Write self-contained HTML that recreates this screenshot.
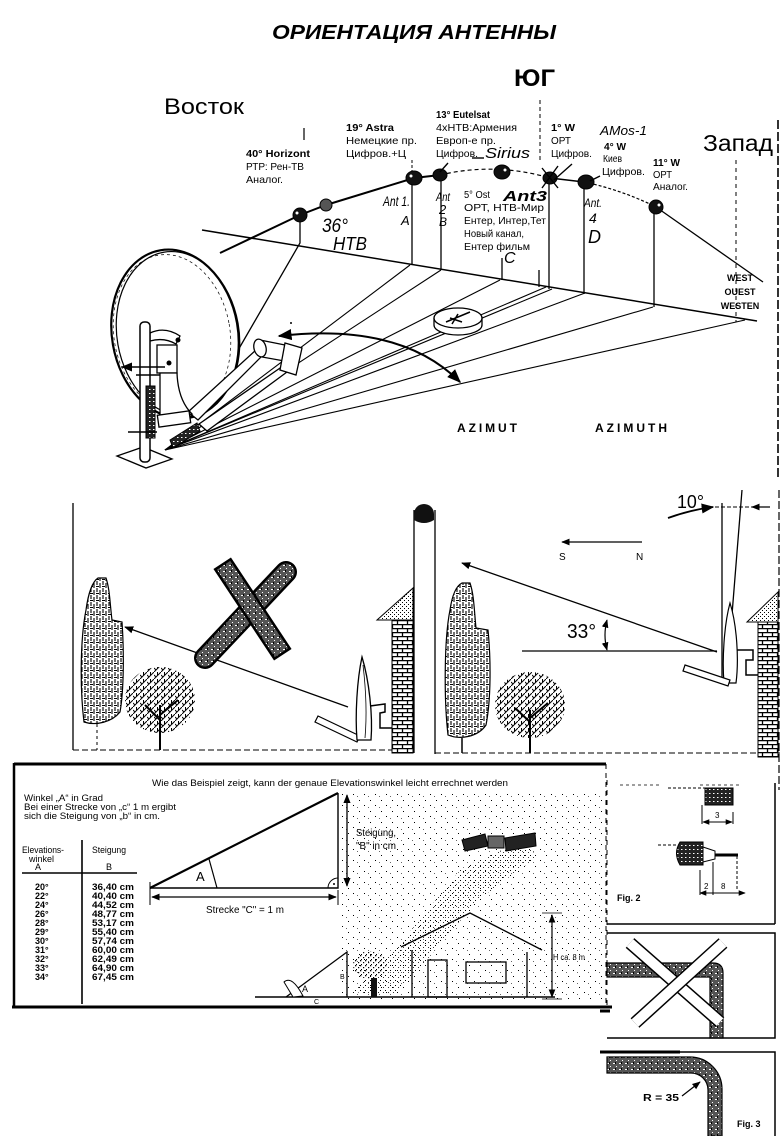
<!DOCTYPE html>
<html><head><meta charset="utf-8"><title>Ориентация антенны</title>
<style>
html,body{margin:0;padding:0;background:#fff;width:784px;height:1136px;overflow:hidden}
svg{display:block}
text{font-family:"Liberation Sans","DejaVu Sans",sans-serif;fill:#000}
.b{font-weight:bold}
.hw{font-family:"Liberation Serif","DejaVu Serif",serif;font-style:italic}
</style></head><body>
<svg width="784" height="1136" viewBox="0 0 784 1136" xmlns="http://www.w3.org/2000/svg">
<defs>
<pattern id="brick" width="10" height="8" patternUnits="userSpaceOnUse">
 <rect width="10" height="8" fill="#fff"/>
 <path d="M0 0.6H10M0 4.6H10M2.5 0.6V4.6M7.5 4.6V8.6" stroke="#000" stroke-width="1.3"/>
</pattern>
<pattern id="stip" width="4" height="4" patternUnits="userSpaceOnUse">
 <rect width="4" height="4" fill="#fff"/>
 <rect x="0" y="0" width="1" height="1" fill="#000"/>
 <rect x="2" y="2" width="1" height="1" fill="#000"/>
</pattern>
<pattern id="stipl" width="5" height="5" patternUnits="userSpaceOnUse">
 <rect x="0" y="0" width="1" height="1" fill="#000"/>
 <rect x="3" y="2" width="1" height="1" fill="#333"/>
</pattern>
<pattern id="sparse" width="11" height="11" patternUnits="userSpaceOnUse">
 <rect x="1" y="2" width="1" height="1" fill="#000"/>
 <rect x="7" y="8" width="1" height="1" fill="#000"/>
 <rect x="5" y="4" width="1" height="1" fill="#666"/>
</pattern>
<pattern id="dense" width="5" height="5" patternUnits="userSpaceOnUse">
 <rect x="0" y="0" width="1.3" height="1.3" fill="#000"/>
 <rect x="3" y="2" width="1.2" height="1.2" fill="#000"/>
 <rect x="1" y="4" width="1" height="1" fill="#000"/>
</pattern>
<pattern id="scrib" width="6" height="7" patternUnits="userSpaceOnUse">
 <rect width="6" height="7" fill="#fff"/>
 <path d="M1 0V4M4 2V7M0 5.5H3" stroke="#000" stroke-width="1.1"/>
</pattern>
<pattern id="branch" width="7" height="7" patternUnits="userSpaceOnUse">
 <rect width="7" height="7" fill="#fff"/>
 <path d="M0 7L3.5 3.5L7 0M3.5 3.5L3.5 0M2 5L0 3" stroke="#000" stroke-width="1"/>
</pattern>
<pattern id="hatch" width="4" height="4" patternUnits="userSpaceOnUse">
 <rect width="4" height="4" fill="#222"/>
 <rect x="1" y="1" width="1.5" height="1" fill="#fff"/>
</pattern>
<pattern id="mottle" width="6" height="6" patternUnits="userSpaceOnUse">
 <rect width="6" height="6" fill="#555"/>
 <rect x="1" y="1" width="2" height="1" fill="#fff"/>
 <rect x="4" y="4" width="1" height="1" fill="#fff"/>
 <rect x="3" y="0" width="1" height="2" fill="#000"/>
</pattern>
<marker id="ah" viewBox="0 0 10 10" refX="9" refY="5" markerWidth="7" markerHeight="7" orient="auto-start-reverse"><path d="M0 1L10 5L0 9Z" fill="#000"/></marker>
</defs>

<rect width="784" height="1136" fill="#fff"/>

<!-- ================= TOP SECTION ================= -->
<text x="272" y="39" font-size="20" class="b" font-style="italic" textLength="284" lengthAdjust="spacingAndGlyphs">ОРИЕНТАЦИЯ АНТЕННЫ</text>
<text x="514" y="86" font-size="24" class="b" textLength="41" lengthAdjust="spacingAndGlyphs">ЮГ</text>
<text x="164" y="114" font-size="22" textLength="80" lengthAdjust="spacingAndGlyphs">Восток</text>
<text x="703" y="151" font-size="23" textLength="70" lengthAdjust="spacingAndGlyphs">Запад</text>

<g font-size="10.5">
 <text x="246" y="157" class="b" textLength="64" lengthAdjust="spacingAndGlyphs">40° Horizont</text>
 <text x="246" y="170" textLength="58" lengthAdjust="spacingAndGlyphs">РТР: Рен-ТВ</text>
 <text x="246" y="183" textLength="37" lengthAdjust="spacingAndGlyphs">Аналог.</text>

 <text x="346" y="131" class="b" textLength="48" lengthAdjust="spacingAndGlyphs">19° Astra</text>
 <text x="346" y="144" textLength="71" lengthAdjust="spacingAndGlyphs">Немецкие пр.</text>
 <text x="346" y="157" textLength="60" lengthAdjust="spacingAndGlyphs">Цифров.+Ц</text>

 <text x="436" y="118" class="b" textLength="54" lengthAdjust="spacingAndGlyphs">13° Eutelsat</text>
 <text x="436" y="131" textLength="81" lengthAdjust="spacingAndGlyphs">4xНТВ:Армения</text>
 <text x="436" y="144" textLength="60" lengthAdjust="spacingAndGlyphs">Европ-е пр.</text>
 <text x="436" y="157" textLength="42" lengthAdjust="spacingAndGlyphs">Цифров.</text>

 <text x="551" y="131" class="b" textLength="24" lengthAdjust="spacingAndGlyphs">1° W</text>
 <text x="551" y="144" textLength="20" lengthAdjust="spacingAndGlyphs">ОРТ</text>
 <text x="551" y="157" textLength="41" lengthAdjust="spacingAndGlyphs">Цифров.</text>

 <text x="604" y="150" class="b" textLength="22" lengthAdjust="spacingAndGlyphs">4° W</text>
 <text x="603" y="162" textLength="19" lengthAdjust="spacingAndGlyphs">Киев</text>
 <text x="602" y="175" textLength="43" lengthAdjust="spacingAndGlyphs">Цифров.</text>

 <text x="653" y="166" class="b" textLength="27" lengthAdjust="spacingAndGlyphs">11° W</text>
 <text x="653" y="178" textLength="19" lengthAdjust="spacingAndGlyphs">ОРТ</text>
 <text x="653" y="190" textLength="35" lengthAdjust="spacingAndGlyphs">Аналог.</text>
</g>
<g font-size="10" font-family="Liberation Serif, serif">
 <text x="464" y="198" textLength="26" lengthAdjust="spacingAndGlyphs">5° Ost</text>
 <text x="464" y="211" textLength="80" lengthAdjust="spacingAndGlyphs">ОРТ, НТВ-Мир</text>
 <text x="464" y="224" textLength="82" lengthAdjust="spacingAndGlyphs">Ентер, Интер,Тет</text>
 <text x="464" y="237" textLength="60" lengthAdjust="spacingAndGlyphs">Новый канал,</text>
 <text x="464" y="250" textLength="66" lengthAdjust="spacingAndGlyphs">Ентер фильм</text>
</g>

<!-- handwritten -->
<g class="hw">
 <text x="485" y="158" font-size="15" textLength="45" lengthAdjust="spacingAndGlyphs">Sirius</text>
 <text x="600" y="135" font-size="13" textLength="47" lengthAdjust="spacingAndGlyphs">AMos-1</text>
 <text x="322" y="232" font-size="19" textLength="26" lengthAdjust="spacingAndGlyphs">36°</text>
 <text x="333" y="250" font-size="18" textLength="34" lengthAdjust="spacingAndGlyphs">НТВ</text>
 <text x="383" y="206" font-size="14" textLength="27" lengthAdjust="spacingAndGlyphs">Ant 1.</text>
 <text x="401" y="225" font-size="13">A</text>
 <text x="436" y="201" font-size="12" textLength="14" lengthAdjust="spacingAndGlyphs">Ant</text>
 <text x="439" y="214" font-size="13">2</text>
 <text x="439" y="226" font-size="12">B</text>
 <text x="503" y="201" font-size="15" class="b" textLength="44" lengthAdjust="spacingAndGlyphs">Ant3</text>
 <text x="584" y="207" font-size="12" textLength="18" lengthAdjust="spacingAndGlyphs">Ant.</text>
 <text x="589" y="223" font-size="14">4</text>
 <text x="588" y="243" font-size="18">D</text>
 <text x="504" y="263" font-size="16">C</text>
</g>

<!-- ticks / dashed guides -->
<g fill="none" stroke="#000">
 <path d="M304,128 V140" stroke-width="1.2"/>
 <path d="M540,100 V162" stroke-width="1" stroke-dasharray="4,3"/>
 <path d="M412,160 V174" stroke-width="1" stroke-dasharray="3,2"/>
 <path d="M736,160 V322" stroke-width="1" stroke-dasharray="4,4"/>
 <path d="M778,120 V478" stroke-width="1.6" stroke-dasharray="9,3"/>
</g>

<!-- arc of satellites -->
<g fill="none" stroke="#000">
 <path d="M220,253 L300,215 L326,205 L414,178 L440,175" stroke-width="2"/>
 <path d="M440,175 Q495,162 550,178" stroke-width="1.2" stroke-dasharray="4,3"/>
 <path d="M550,178 L584,182" stroke-width="1.5"/>
 <path d="M584,182 Q622,190 656,207" stroke-width="1.2" stroke-dasharray="3,2"/>
 <path d="M656,207 L763,282" stroke-width="1.3"/>
</g>

<!-- horizon plane -->
<g fill="none" stroke="#000" stroke-width="1.3">
 <path d="M202,230 L757,321" stroke-width="1.5"/>
 <path d="M300,215 V243 L237,352"/>
 <path d="M412,178 V265"/>
 <path d="M441,175 V270"/>
 <path d="M502,258 V280"/>
 <path d="M539,270 V287"/>
 <path d="M549,178 V289"/>
 <path d="M584,182 V294"/>
 <path d="M654,207 V307"/>
</g>
<g fill="none" stroke="#000" stroke-width="1.1">
 <path d="M165,450 L410,265"/>
 <path d="M165,450 L441,270"/>
 <path d="M165,450 L500,280"/>
 <path d="M165,450 L546,287"/>
 <path d="M165,450 L552,289"/>
 <path d="M165,450 L585,293"/>
 <path d="M165,450 L653,307"/>
 <path d="M165,450 L745,320"/>
</g>

<!-- satellites -->
<g fill="#111" stroke="#000">
 <ellipse cx="300" cy="215" rx="7" ry="7"/>
 <ellipse cx="326" cy="205" rx="6" ry="6" fill="#555"/>
 <ellipse cx="414" cy="178" rx="8" ry="7"/>
 <ellipse cx="440" cy="175" rx="7" ry="6"/>
 <ellipse cx="502" cy="172" rx="8" ry="7"/>
 <ellipse cx="550" cy="178" rx="7" ry="6"/>
 <ellipse cx="586" cy="182" rx="8" ry="7"/>
 <ellipse cx="656" cy="207" rx="7" ry="7"/>
</g>
<g fill="#fff">
 <circle cx="297" cy="213" r="1.5"/><circle cx="411" cy="176" r="1.5"/><circle cx="505" cy="170" r="1.5"/><circle cx="659" cy="205" r="1.5"/>
</g>
<g fill="none" stroke="#000" stroke-width="1.4">
 <path d="M542,168 L558,188 M558,166 L542,188 M572,164 L554,180"/>
 <path d="M448,163 L440,172"/>
 <path d="M600,176 L590,181"/>
 <path d="M472,158 L484,158"/>
</g>

<!-- dish -->
<ellipse cx="175" cy="334" rx="63" ry="85" transform="rotate(-10 175 334)" fill="#fff" stroke="#000" stroke-width="2.2"/>
<ellipse cx="178" cy="334" rx="61" ry="83" transform="rotate(-10 178 334)" fill="none" stroke="#000" stroke-width="1.2"/>
<ellipse cx="172" cy="334" rx="58" ry="80" transform="rotate(-10 172 334)" fill="none" stroke="#000" stroke-width="0.7" stroke-dasharray="3,3"/>
<!-- feed arms & LNB -->
<g stroke="#000" stroke-width="1.3" fill="#fff">
 <path d="M188,412 L256,350 L262,356 L198,420 Z"/>
 <path d="M199,424 L283,366 L287,372 L207,431 Z"/>
 <path d="M260,340 L290,346 L290,362 L262,357 Z"/>
 <ellipse cx="260" cy="348" rx="6" ry="9" transform="rotate(-15 260 348)"/>
 <path d="M285,343 L302,348 L296,375 L280,370 Z"/>
</g>
<!-- mount -->
<g stroke="#000" stroke-width="1.3" fill="#fff">
 <path d="M150,333 Q165,326 180,336 L176,344 Q164,337 150,341 Z"/>
 <rect x="157" y="345" width="20" height="28"/>
 <path d="M160,373 L177,373 Q178,400 192,414 L160,420 Z"/>
 <rect x="158" y="413" width="32" height="12" transform="rotate(-8 174 419)"/>
</g>
<path d="M170,440 L197,423 L200,431 L173,448 Z" fill="url(#hatch)" stroke="#000"/>
<circle cx="169" cy="363" r="2.5" fill="#000"/>
<circle cx="178" cy="340" r="2.5" fill="#000"/>
<path d="M117,456 L143,447 L172,459 L146,468 Z" fill="#fff" stroke="#000" stroke-width="1.3"/>
<rect x="140" y="322" width="10" height="140" rx="4" fill="#fff" stroke="#000" stroke-width="1.5"/>
<rect x="146" y="386" width="9" height="52" fill="url(#hatch)" stroke="#000"/>
<g fill="none" stroke="#000" stroke-width="1.6">
 <path d="M122,367 H165" marker-start="url(#ah)"/>
 <path d="M128,432 H157"/>
 <path d="M136,375 H160"/>
</g>

<!-- compass -->
<g stroke="#000" stroke-width="1.3" fill="#fff">
 <path d="M434,318 V325 A24,10 0 0 0 482,325 V318"/>
 <ellipse cx="458" cy="318" rx="24" ry="10"/>
</g>
<path d="M446,322 L470,312 M450,318 L462,322 M458,314 L452,324" fill="none" stroke="#000" stroke-width="1.5"/>

<!-- azimuth arrow -->
<path d="M279,336 Q400,322 460,382" fill="none" stroke="#000" stroke-width="2" marker-start="url(#ah)" marker-end="url(#ah)"/>
<circle cx="291" cy="323" r="1" fill="#000"/>

<text x="457" y="432" font-size="12" class="b" textLength="60" lengthAdjust="spacing">AZIMUT</text>
<text x="595" y="432" font-size="12" class="b" textLength="72" lengthAdjust="spacing">AZIMUTH</text>
<g font-size="9" class="b" text-anchor="middle">
 <text x="740" y="281">WEST</text>
 <text x="740" y="295">OUEST</text>
 <text x="740" y="309">WESTEN</text>
</g>

<!-- ================= MIDDLE LEFT PANEL ================= -->
<g fill="none" stroke="#000">
 <path d="M73,503 V750" stroke-width="1.3"/>
 <path d="M73,750 H414" stroke-width="1" stroke-dasharray="6,3"/>
 <path d="M414,510 V753 M435,510 V754" stroke-width="1.3"/>
</g>
<path d="M414,514 A10,10 0 0 1 434,514 L434,520 Q424,526 414,520 Z" fill="#111"/>
<path d="M377,620 L413,588 L413,620 Z" fill="url(#stip)" stroke="#000"/>
<rect x="392" y="620" width="21" height="133" fill="url(#brick)" stroke="#000"/>
<!-- trees left -->
<path d="M84,722 C80,690 80,640 86,610 C88,595 92,582 98,578 L106,578 C110,590 110,605 112,620 L122,622 C124,650 124,690 120,712 C112,722 96,726 84,722 Z" fill="url(#scrib)" stroke="#000" stroke-width="1.2"/>
<path d="M97,724 V750" fill="none" stroke="#000" stroke-dasharray="3,3"/>
<ellipse cx="160" cy="700" rx="35" ry="33" fill="url(#branch)"/>
<path d="M160,705 V750 M160,720 L145,705 M160,715 L178,700" fill="none" stroke="#000" stroke-width="2"/>
<!-- arrow & X -->
<path d="M348,707 L125,627" fill="none" stroke="#000" stroke-width="1.3" marker-end="url(#ah)"/>
<line x1="205" y1="658" x2="286" y2="572" stroke="#000" stroke-width="22" stroke-linecap="round"/>
<line x1="205" y1="658" x2="286" y2="572" stroke="url(#mottle)" stroke-width="17" stroke-linecap="round"/>
<line x1="228" y1="572" x2="277" y2="646" stroke="#000" stroke-width="21" stroke-linecap="square"/>
<line x1="228" y1="572" x2="277" y2="646" stroke="url(#mottle)" stroke-width="16" stroke-linecap="square"/>
<!-- dish left -->
<path d="M318,716 L360,736 L357,742 L315,722 Z" fill="#fff" stroke="#000" stroke-width="1.2"/>
<path d="M362,657 C369,680 373,715 371,740 L357,740 C355,715 357,680 362,657 Z" fill="#fff" stroke="#000" stroke-width="1.3"/>
<path d="M363,665 C366,690 367,715 365,738" fill="none" stroke="#000" stroke-width="0.8"/>
<path d="M370,706 L385,704 L385,712 L380,713 L380,728 L392,728" fill="none" stroke="#000" stroke-width="1.5"/>

<!-- ================= MIDDLE RIGHT PANEL ================= -->
<g fill="none" stroke="#000">
 <path d="M435,753 H780" stroke-width="1" stroke-dasharray="6,3"/>
 <path d="M779,490 V790" stroke-width="1.2" stroke-dasharray="8,3"/>
</g>
<text x="677" y="508" font-size="18" textLength="27" lengthAdjust="spacingAndGlyphs">10°</text>
<g fill="none" stroke="#000">
 <path d="M668,518 Q690,510 713,507" stroke-width="1.8" marker-end="url(#ah)"/>
 <path d="M715,507 H770" stroke-width="1" stroke-dasharray="4,2"/>
 <path d="M770,507 H752" stroke-width="1.2" marker-end="url(#ah)"/>
 <path d="M722,503 V677 M742,490 L727,677" stroke-width="1.3"/>
</g>
<path d="M730,603 C737,625 739,660 736,683 L724,683 C722,660 724,625 730,603 Z" fill="#fff" stroke="#000" stroke-width="1.2"/>
<g fill="none" stroke="#000">
 <path d="M642,542 H562" stroke-width="1.2" marker-end="url(#ah)"/>
 <path d="M717,652 L462,563" stroke-width="1.3" marker-end="url(#ah)"/>
 <path d="M522,651 H717" stroke-width="1.2"/>
 <path d="M607,620 Q603,635 607,650" stroke-width="1.2" marker-start="url(#ah)" marker-end="url(#ah)"/>
</g>
<text x="559" y="560" font-size="10">S</text>
<text x="636" y="560" font-size="10">N</text>
<text x="567" y="638" font-size="20" textLength="29" lengthAdjust="spacingAndGlyphs">33°</text>
<path d="M685,665 L730,680 L728,686 L683,671 Z" fill="#fff" stroke="#000" stroke-width="1.2"/>
<path d="M737,650 L753,650 L753,660 L746,660 L746,675 L758,675" fill="none" stroke="#000" stroke-width="1.5"/>
<path d="M747,622 L778,592 L778,622 Z" fill="url(#stip)" stroke="#000"/>
<rect x="758" y="622" width="20" height="135" fill="url(#brick)" stroke="#000"/>
<path d="M448,735 C444,700 444,640 450,610 C452,596 456,586 462,583 L470,583 C474,595 474,608 476,628 L488,630 C491,660 491,700 486,725 C478,737 460,740 448,735 Z" fill="url(#scrib)" stroke="#000" stroke-width="1.2"/>
<path d="M462,738 V753" fill="none" stroke="#000" stroke-width="1.5"/>
<ellipse cx="530" cy="705" rx="35" ry="33" fill="url(#branch)"/>
<path d="M530,710 V753 M530,722 L515,708 M530,718 L548,703" fill="none" stroke="#000" stroke-width="2"/>

<!-- ================= LOWER LEFT BOX ================= -->
<g fill="none" stroke="#000">
 <path d="M14,764 H606" stroke-width="3"/>
 <path d="M14,763 V1008" stroke-width="2.5"/>
 <path d="M12,1007 H612" stroke-width="3"/>
 <path d="M606,764 V1008" stroke-width="1" stroke-dasharray="5,4"/>
</g>
<text x="152" y="786" font-size="9" textLength="356" lengthAdjust="spacingAndGlyphs">Wie das Beispiel zeigt, kann der genaue Elevationswinkel leicht errechnet werden</text>
<g font-size="9">
 <text x="24" y="801" textLength="79" lengthAdjust="spacingAndGlyphs">Winkel „A“ in Grad</text>
 <text x="24" y="810" textLength="152" lengthAdjust="spacingAndGlyphs">Bei einer Strecke von „c“ 1 m ergibt</text>
 <text x="24" y="819" textLength="136" lengthAdjust="spacingAndGlyphs">sich die Steigung von „b“ in cm.</text>
 <text x="22" y="853" textLength="42" lengthAdjust="spacingAndGlyphs">Elevations-</text>
 <text x="29" y="862" textLength="25" lengthAdjust="spacingAndGlyphs">winkel</text>
 <text x="35" y="870">A</text>
 <text x="92" y="853" textLength="34" lengthAdjust="spacingAndGlyphs">Steigung</text>
 <text x="106" y="870">B</text>
</g>
<g fill="none" stroke="#000" stroke-width="1.6">
 <path d="M82,840 V1004"/>
 <path d="M22,873 H137"/>
</g>
<g font-size="9" class="b">
 <text x="35" y="890">20°</text><text x="92" y="890" textLength="42" lengthAdjust="spacingAndGlyphs">36,40 cm</text>
 <text x="35" y="899">22°</text><text x="92" y="899" textLength="42" lengthAdjust="spacingAndGlyphs">40,40 cm</text>
 <text x="35" y="908">24°</text><text x="92" y="908" textLength="42" lengthAdjust="spacingAndGlyphs">44,52 cm</text>
 <text x="35" y="917">26°</text><text x="92" y="917" textLength="42" lengthAdjust="spacingAndGlyphs">48,77 cm</text>
 <text x="35" y="926">28°</text><text x="92" y="926" textLength="42" lengthAdjust="spacingAndGlyphs">53,17 cm</text>
 <text x="35" y="935">29°</text><text x="92" y="935" textLength="42" lengthAdjust="spacingAndGlyphs">55,40 cm</text>
 <text x="35" y="944">30°</text><text x="92" y="944" textLength="42" lengthAdjust="spacingAndGlyphs">57,74 cm</text>
 <text x="35" y="953">31°</text><text x="92" y="953" textLength="42" lengthAdjust="spacingAndGlyphs">60,00 cm</text>
 <text x="35" y="962">32°</text><text x="92" y="962" textLength="42" lengthAdjust="spacingAndGlyphs">62,49 cm</text>
 <text x="35" y="971">33°</text><text x="92" y="971" textLength="42" lengthAdjust="spacingAndGlyphs">64,90 cm</text>
 <text x="35" y="980">34°</text><text x="92" y="980" textLength="42" lengthAdjust="spacingAndGlyphs">67,45 cm</text>
</g>
<!-- stipple background -->
<rect x="340" y="790" width="262" height="212" fill="url(#sparse)"/>
<path d="M350,992 L395,950 L462,868 L520,842 L538,856 L478,900 L425,962 L395,995 Z" fill="url(#stipl)"/>
<!-- triangle -->
<path d="M150,888 L338,793" fill="none" stroke="#000" stroke-width="2.2"/>
<path d="M150,888 H338 V793" fill="none" stroke="#000" stroke-width="1.4"/>
<path d="M209,859 L217,888" fill="none" stroke="#000" stroke-width="1.2"/>
<text x="196" y="881" font-size="13">A</text>
<path d="M328,888 A10,10 0 0 1 338,878" fill="none" stroke="#000"/>
<circle cx="334" cy="884" r="1" fill="#000"/>
<g fill="none" stroke="#000">
 <path d="M150,882 V905 M338,890 V905"/>
 <path d="M152,897 H336" stroke-width="1.2" marker-start="url(#ah)" marker-end="url(#ah)"/>
 <path d="M347,795 V886" stroke-width="1.3" marker-start="url(#ah)" marker-end="url(#ah)"/>
</g>
<text x="206" y="913" font-size="10" textLength="78" lengthAdjust="spacingAndGlyphs">Strecke "C" = 1 m</text>
<text x="356" y="836" font-size="10" textLength="40" lengthAdjust="spacingAndGlyphs">Steigung,</text>
<text x="356" y="849" font-size="10" textLength="40" lengthAdjust="spacingAndGlyphs">"B" in cm</text>
<!-- satellite -->
<path d="M462,840 L485,834 L488,846 L465,851 Z M505,838 L535,833 L536,846 L506,851 Z" fill="#222" stroke="#000"/>
<rect x="488" y="836" width="16" height="12" fill="#666" stroke="#000"/>
<!-- house -->
<g fill="none" stroke="#000" stroke-width="1.3">
 <path d="M401,947 L470,913 L542,950"/>
 <path d="M412,950 V997 M527,952 V997"/>
 <rect x="428" y="960" width="19" height="37"/>
 <rect x="466" y="962" width="40" height="21"/>
 <path d="M552,915 V997" stroke-width="1.2" marker-start="url(#ah)" marker-end="url(#ah)"/>
 <path d="M542,913 H562 M542,999 H562" stroke-width="0.8"/>
 <path d="M255,997 H555" stroke-width="1.5"/>
 <path d="M286,997 L347,952 V997"/>
</g>
<text x="553" y="960" font-size="8" textLength="32" lengthAdjust="spacingAndGlyphs">H ca. 8 m</text>
<!-- small triangle & dish -->
<path d="M284,982 Q292,975 303,996 L293,997 Z" fill="#fff" stroke="#000"/>
<text x="302" y="992" font-size="9">A</text>
<text x="340" y="979" font-size="7">B</text>
<text x="314" y="1004" font-size="7">C</text>
<ellipse cx="370" cy="965" rx="17" ry="14" fill="url(#dense)"/>
<rect x="371" y="978" width="6" height="19" fill="#111"/>

<!-- ================= RIGHT FIGURES ================= -->
<g fill="none" stroke="#000">
 <path d="M607,780 V1010" stroke-width="1" stroke-dasharray="5,5"/>
 <path d="M620,785 H660 M700,785 H740" stroke-width="0.8" stroke-dasharray="3,3"/>
 <path d="M775,783 V924 M607,924 H775" stroke-width="1.5"/>
 <path d="M600,1011 H610" stroke-width="3"/>
</g>
<!-- fig 2 -->
<rect x="705" y="788" width="28" height="17" fill="url(#hatch)" stroke="#000"/>
<g fill="none" stroke="#000">
 <path d="M668,788 H705" stroke-dasharray="3,2"/>
 <path d="M702,805 V824 M733,812 V824"/>
 <path d="M703,822 H732" marker-start="url(#ah)" marker-end="url(#ah)"/>
</g>
<text x="715" y="818" font-size="8">3</text>
<path d="M680,842 H703 V865 H680 Q673,853 680,842 Z" fill="url(#hatch)" stroke="#000"/>
<path d="M703,847 L715,851 L715,859 L703,862 Z" fill="#fff" stroke="#000"/>
<g fill="none" stroke="#000">
 <path d="M715,855 H738" stroke-width="3"/>
 <path d="M658,845 H676" stroke-dasharray="3,2"/>
 <path d="M713,862 V895 M700,870 V895"/>
 <path d="M737,856 V890" stroke-dasharray="3,2"/>
 <path d="M700,893 H745" marker-start="url(#ah)" marker-end="url(#ah)"/>
</g>
<text x="704" y="889" font-size="8">2</text>
<text x="721" y="889" font-size="8">8</text>
<text x="617" y="901" font-size="9" class="b">Fig. 2</text>
<!-- cross box -->
<path d="M607,933 H775 V1038 H607" fill="none" stroke="#000" stroke-width="1.5"/>
<path d="M607,963 H713 Q723,963 723,973 V1038 H710 V977 H607 Z" fill="url(#mottle)" stroke="#000" stroke-width="1.2"/>
<line x1="630" y1="943" x2="720" y2="1022" stroke="#000" stroke-width="13"/>
<line x1="630" y1="943" x2="720" y2="1022" stroke="#fff" stroke-width="10"/>
<line x1="723" y1="943" x2="635" y2="1023" stroke="#000" stroke-width="13"/>
<line x1="723" y1="943" x2="635" y2="1023" stroke="#fff" stroke-width="10"/>
<!-- fig 3 -->
<path d="M600,1052 H775 V1136" fill="none" stroke="#000" stroke-width="1.5"/>
<path d="M600,1052 H680" fill="none" stroke="#000" stroke-width="3"/>
<path d="M607,1057 L690,1057 A32,32 0 0 1 722,1089 L722,1136 L708,1136 L708,1090 A17,17 0 0 0 691,1073 L607,1073 Z" fill="url(#mottle)" stroke="#000" stroke-width="1.2"/>
<text x="643" y="1101" font-size="10" class="b" textLength="36" lengthAdjust="spacingAndGlyphs">R = 35</text>
<path d="M682,1096 L700,1082" fill="none" stroke="#000" stroke-width="1.2" marker-end="url(#ah)"/>
<text x="737" y="1127" font-size="9" class="b">Fig. 3</text>
</svg>
</body></html>
